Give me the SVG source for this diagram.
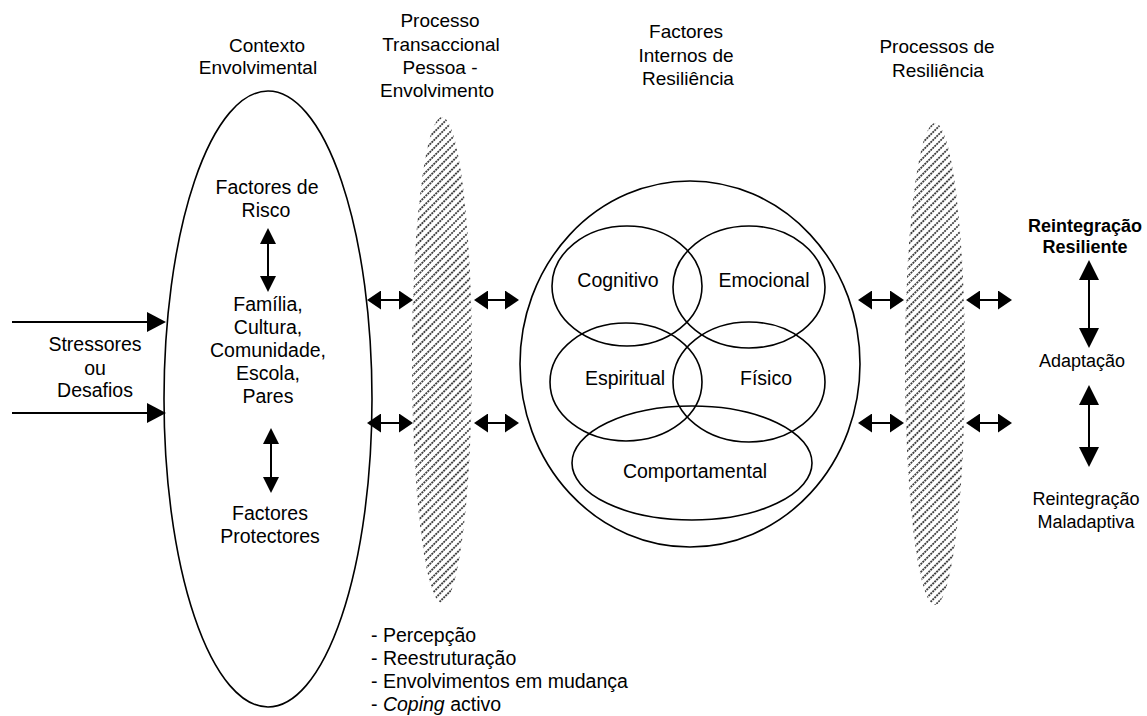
<svg xmlns="http://www.w3.org/2000/svg" width="1147" height="716" viewBox="0 0 1147 716">
  <style>
    text { font-family: "Liberation Sans", Arial, sans-serif; font-size: 19.5px; fill: #000; text-anchor: middle; }
    .title { font-size: 19px; }
    .side { font-size: 18px; }
    .bold { font-weight: bold; }
    .list { text-anchor: start; }
    .outline { fill: none; stroke: #000; stroke-width: 1.6; }
    .hatched { fill: url(#hatch); stroke: none; }
    .arrow { stroke: #000; stroke-width: 2; fill: none; }
  </style>
  <defs>
    <pattern id="hatch" width="5.6" height="5.6" patternUnits="userSpaceOnUse" patternTransform="rotate(-45)">
      <line x1="0" y1="2.8" x2="5.6" y2="2.8" stroke="#000" stroke-width="1.5" stroke-dasharray="2 0.8"/>
    </pattern>
    <!-- small horizontal double-arrow heads -->
    <marker id="hHead" markerUnits="userSpaceOnUse" viewBox="0 -9.5 14 19" markerWidth="14" markerHeight="19" refX="2" refY="0" orient="auto-start-reverse">
      <path d="M0,-9.5 L14,0 L0,9.5 Z" fill="#000"/>
    </marker>
    <!-- vertical double-arrow heads inside the context ellipse -->
    <marker id="vHead" markerUnits="userSpaceOnUse" viewBox="0 -8 16 16" markerWidth="16" markerHeight="16" refX="2" refY="0" orient="auto-start-reverse">
      <path d="M0,-8 L16,0 L0,8 Z" fill="#000"/>
    </marker>
    <!-- larger heads on the outcome column -->
    <marker id="rHead" markerUnits="userSpaceOnUse" viewBox="0 -10 20 20" markerWidth="20" markerHeight="20" refX="2" refY="0" orient="auto-start-reverse">
      <path d="M0,-10 L20,0 L0,10 Z" fill="#000"/>
    </marker>
    <!-- stressor input arrows -->
    <marker id="sHead" markerUnits="userSpaceOnUse" viewBox="0 -10 19 20" markerWidth="19" markerHeight="20" refX="2" refY="0" orient="auto">
      <path d="M0,-10 L19,0 L0,10 Z" fill="#000"/>
    </marker>
  </defs>

  <!-- column headings -->
  <g id="heading-contexto">
    <text class="title" x="267" y="52">Contexto</text>
    <text class="title" x="258" y="74">Envolvimental</text>
  </g>
  <g id="heading-processo">
    <text class="title" x="440" y="27">Processo</text>
    <text class="title" x="441" y="51">Transaccional</text>
    <text class="title" x="440" y="74">Pessoa -</text>
    <text class="title" x="437" y="97">Envolvimento</text>
  </g>
  <g id="heading-factores">
    <text class="title" x="686" y="38">Factores</text>
    <text class="title" x="686" y="62">Internos de</text>
    <text class="title" x="688" y="85">Resiliência</text>
  </g>
  <g id="heading-processos">
    <text class="title" x="937" y="53">Processos de</text>
    <text class="title" x="938" y="77">Resiliência</text>
  </g>

  <!-- stressors input -->
  <g id="stressores">
    <text x="95" y="351">Stressores</text>
    <text x="95" y="375">ou</text>
    <text x="95" y="397">Desafios</text>
  </g>

  <!-- environmental context -->
  <g id="contexto">
    <ellipse class="outline" cx="268" cy="399" rx="104" ry="308"/>
    <text x="267" y="194">Factores de</text>
    <text x="266" y="217">Risco</text>
    <text x="268" y="311">Família,</text>
    <text x="268" y="334">Cultura,</text>
    <text x="268" y="357">Comunidade,</text>
    <text x="268" y="380">Escola,</text>
    <text x="268" y="403">Pares</text>
    <text x="270" y="520">Factores</text>
    <text x="270" y="543">Protectores</text>
  </g>

  <!-- person-environment transactional process -->
  <g id="processo-transaccional">
    <ellipse class="hatched" cx="442" cy="360" rx="30" ry="243"/>
  </g>

  <!-- internal resilience factors -->
  <g id="factores-internos">
    <ellipse class="outline" cx="690" cy="364" rx="170" ry="183"/>
    <ellipse class="outline" cx="627" cy="286" rx="75" ry="60"/>
    <ellipse class="outline" cx="749" cy="287" rx="76" ry="61"/>
    <ellipse class="outline" cx="626" cy="382" rx="76" ry="59"/>
    <ellipse class="outline" cx="749" cy="382" rx="76" ry="60"/>
    <ellipse class="outline" cx="692" cy="463" rx="120" ry="57"/>
    <text x="618" y="287">Cognitivo</text>
    <text x="764" y="287">Emocional</text>
    <text x="625" y="385">Espiritual</text>
    <text x="766" y="385">Físico</text>
    <text x="695" y="478">Comportamental</text>
  </g>

  <!-- resilience processes -->
  <g id="processos-resiliencia">
    <ellipse class="hatched" cx="935" cy="364" rx="30" ry="241"/>
  </g>

  <!-- outcomes -->
  <g id="resultados">
    <text class="side bold" x="1085" y="232">Reintegração</text>
    <text class="side bold" x="1085" y="253">Resiliente</text>
    <text class="side" x="1082" y="367">Adaptação</text>
    <text class="side" x="1086" y="505">Reintegração</text>
    <text class="side" x="1086" y="528">Maladaptiva</text>
  </g>

  <!-- coping list -->
  <g id="lista-coping">
    <text class="list" x="371" y="642">- Percepção</text>
    <text class="list" x="371" y="665">- Reestruturação</text>
    <text class="list" x="371" y="688">- Envolvimentos em mudança</text>
    <text class="list" x="371" y="711">- <tspan font-style="italic">Coping</tspan> activo</text>
  </g>

  <!-- connectors -->
  <g id="connectors" class="arrow">
    <line x1="12" y1="322" x2="149" y2="322" marker-end="url(#sHead)"/>
    <line x1="12" y1="413" x2="149" y2="413" marker-end="url(#sHead)"/>

    <line x1="268" y1="242" x2="268" y2="278" marker-start="url(#vHead)" marker-end="url(#vHead)"/>
    <line x1="271" y1="442" x2="271" y2="479" marker-start="url(#vHead)" marker-end="url(#vHead)"/>

    <line x1="379" y1="300" x2="401" y2="300" marker-start="url(#hHead)" marker-end="url(#hHead)"/>
    <line x1="486" y1="300" x2="507" y2="300" marker-start="url(#hHead)" marker-end="url(#hHead)"/>
    <line x1="379" y1="423" x2="401" y2="423" marker-start="url(#hHead)" marker-end="url(#hHead)"/>
    <line x1="486" y1="423" x2="507" y2="423" marker-start="url(#hHead)" marker-end="url(#hHead)"/>

    <line x1="870" y1="300" x2="892" y2="300" marker-start="url(#hHead)" marker-end="url(#hHead)"/>
    <line x1="978" y1="300" x2="1000" y2="300" marker-start="url(#hHead)" marker-end="url(#hHead)"/>
    <line x1="870" y1="423" x2="892" y2="423" marker-start="url(#hHead)" marker-end="url(#hHead)"/>
    <line x1="978" y1="423" x2="1000" y2="423" marker-start="url(#hHead)" marker-end="url(#hHead)"/>

    <line x1="1089" y1="278" x2="1089" y2="330" marker-start="url(#rHead)" marker-end="url(#rHead)"/>
    <line x1="1089" y1="403" x2="1089" y2="449" marker-start="url(#rHead)" marker-end="url(#rHead)"/>
  </g>
</svg>
